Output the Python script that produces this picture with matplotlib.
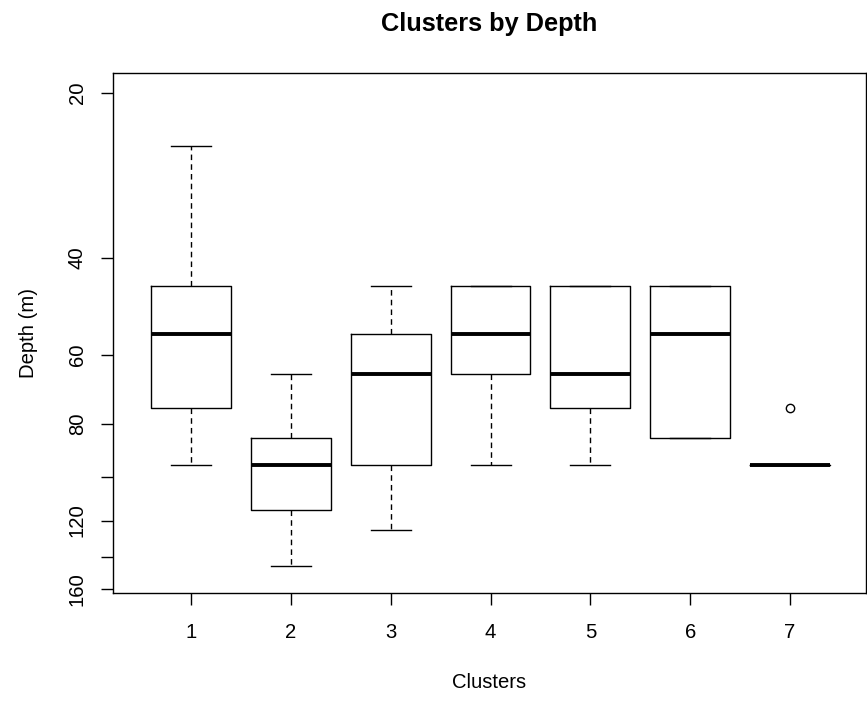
import numpy as np
import matplotlib
matplotlib.use("Agg")
import matplotlib.pyplot as plt
from matplotlib.ticker import FixedLocator, NullLocator

plt.rcParams['font.family'] = ['Liberation Sans', 'DejaVu Sans']

# per-cluster depth summaries (m)
clusters = ['1', '2', '3', '4', '5', '6', '7']
whisk_lo = [25, 65, 45, 45, 45, 45, 95]
q1 = [45, 85, 55, 45, 45, 45, 95]
med = [55, 95, 65, 55, 65, 55, 95]
q3 = [75, 115, 95, 65, 75, 85, 95]
whisk_hi = [95, 145, 125, 95, 95, 85, 95]
outliers = [[], [], [], [], [], [], [75]]

ytick_vals = [20, 40, 60, 80, 100, 120, 140, 160]
ytick_labels = ['20', '40', '60', '80', '', '120', '', '160']

stats = []
for i, name in enumerate(clusters):
    stats.append(dict(label=name, whislo=whisk_lo[i], q1=q1[i], med=med[i],
                      q3=q3[i], whishi=whisk_hi[i], fliers=outliers[i]))

fig = plt.figure(figsize=(8.67, 7.09), dpi=100)
ax = fig.add_axes([0.130, 0.1632, 0.8689, 0.7343])

pos = np.arange(1, len(clusters) + 1)
ax.bxp(stats, positions=pos, widths=0.8, capwidths=0.4, patch_artist=False,
       boxprops=dict(color='black', lw=1.0),
       medianprops=dict(color='black', lw=2.8, solid_capstyle='butt'),
       whiskerprops=dict(color='black', lw=1.0, linestyle=(0, (4, 3))),
       capprops=dict(color='black', lw=1.0),
       flierprops=dict(marker='o', markerfacecolor='none', markeredgecolor='black',
                       markersize=6, markeredgewidth=1.0))

ax.set_yscale('log')
ax.set_ylim(162.7, 18.4)
ax.set_xlim(0.2157, 7.761)
ax.yaxis.set_major_locator(FixedLocator(ytick_vals))
ax.set_yticklabels(ytick_labels)
ax.yaxis.set_minor_locator(NullLocator())
ax.set_xticks(pos)
ax.set_xticklabels(clusters)

ax.tick_params(axis='both', length=8.6, width=1.0, direction='out',
               labelsize=14.6, colors='black')
ax.tick_params(axis='y', pad=10)
ax.tick_params(axis='x', pad=12.5)
for lab in ax.get_yticklabels():
    lab.set_rotation(90)
    lab.set_va('center')

for sp in ax.spines.values():
    sp.set_linewidth(1.0)
    sp.set_color('black')

ax.set_xlabel('Clusters', fontsize=14.6)
ax.xaxis.label.set_va('center')
ax.xaxis.set_label_coords(0.5, (593.3 - 683) / 520.6)
ax.set_ylabel('Depth (m)', fontsize=14.6)
ax.yaxis.label.set_va('center')
ax.yaxis.set_label_coords((28 - 112.7) / 753.3, 0.5)

ax.set_title('Clusters by Depth', fontsize=18.3, fontweight='bold',
             y=(593.3 - 24) / 520.6, va='center', pad=0)

fig.savefig('out.png', dpi=100)
